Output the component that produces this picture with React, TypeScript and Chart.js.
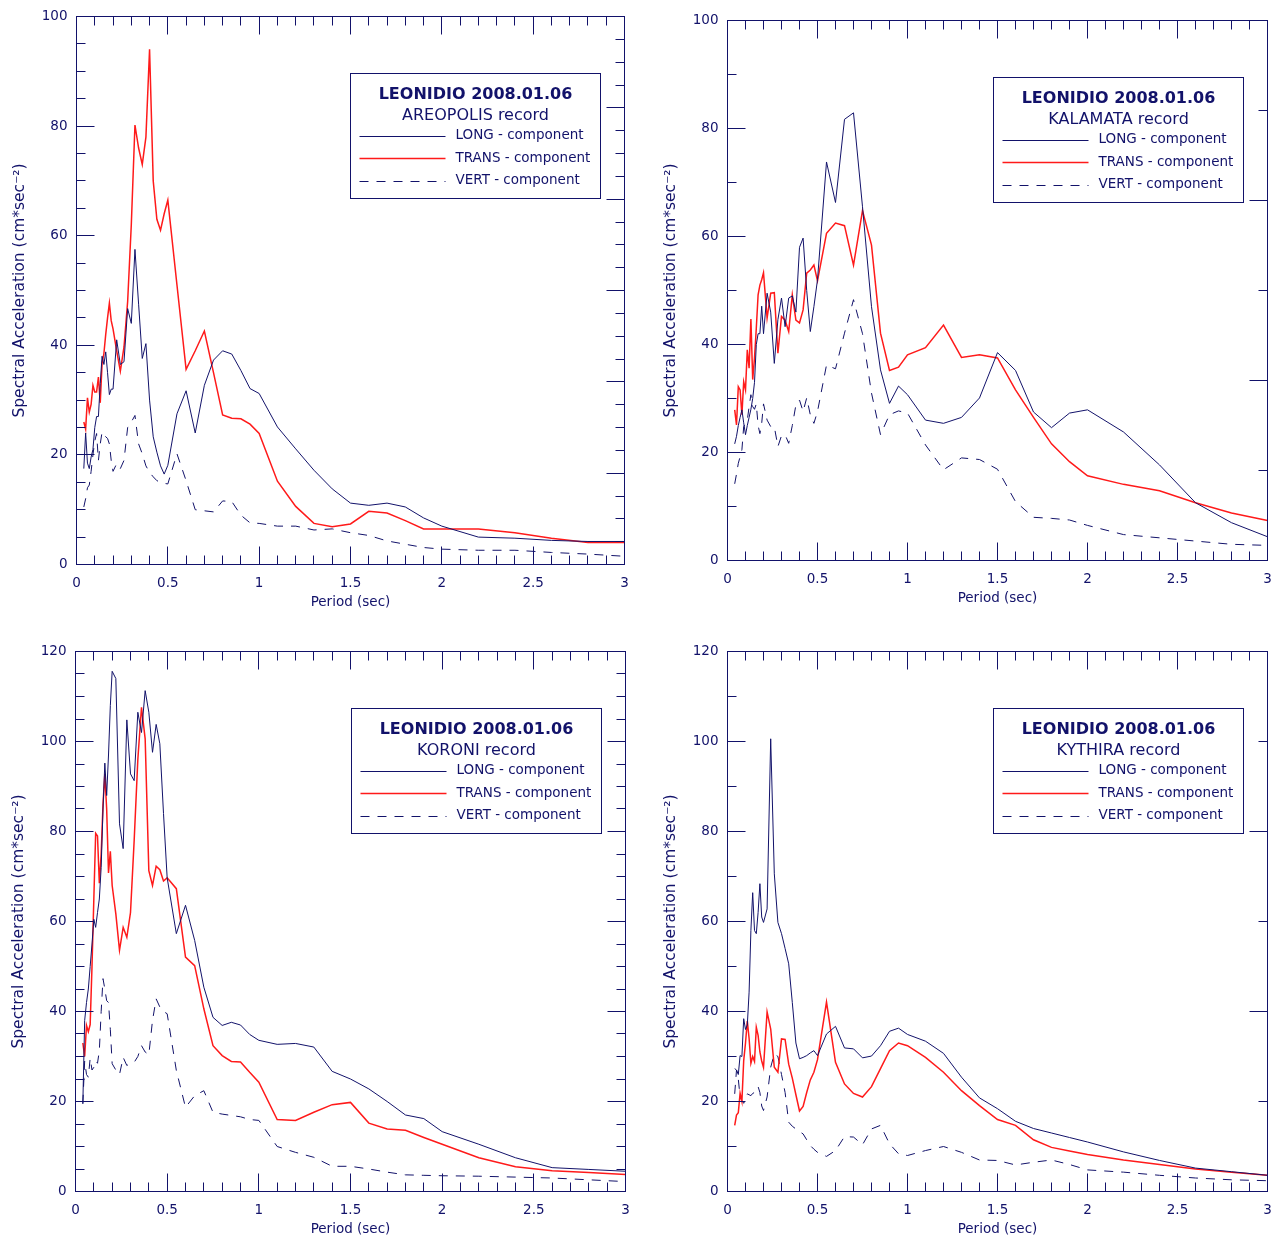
import React, { useEffect, useRef } from 'react';
import { Chart, registerables } from 'chart.js';

Chart.register(...registerables);

const FONT = '"DejaVu Sans", Verdana, sans-serif';
const NAVY = '#12126a';
const RED = '#ff1a1a';

// Periods (sec)
const periods = [
  0.04, 0.05, 0.06, 0.07, 0.08, 0.09, 0.10, 0.11, 0.12, 0.13, 0.14, 0.15, 0.16, 0.17, 0.18, 0.19, 0.20,
  0.22, 0.24, 0.26, 0.28, 0.30, 0.32, 0.34, 0.36, 0.38, 0.40, 0.42, 0.44, 0.46, 0.48, 0.50,
  0.55, 0.60, 0.65, 0.70, 0.75, 0.80, 0.85, 0.90, 0.95, 1.00,
  1.1, 1.2, 1.3, 1.4, 1.5, 1.6, 1.7, 1.8, 1.9, 2.0,
  2.2, 2.4, 2.6, 2.8, 3.0,
];

const eventTitle = 'LEONIDIO 2008.01.06';
const records = ['AREOPOLIS record', 'KALAMATA record', 'KORONI record', 'KYTHIRA record'];
const componentLabels = ['LONG - component', 'TRANS - component', 'VERT - component'];
const xTitle = 'Period (sec)';
const yTitle = 'Spectral Acceleration (cm*sec\u207B\u00B2)';

// AREOPOLIS
const areopolisLong = [
  17.5, 24, 18.5, 17.5, 19.6, 21, 25, 27, 27, 33, 38, 36.5, 38.8, 35, 31, 32, 32,
  41, 36.5, 37, 46.7, 44, 57.5, 47.5, 37.6, 40.3, 30, 23.3, 20.5, 18, 16.5, 18.1,
  27.5, 31.7, 24, 32.7, 37.3, 39, 38.4, 35.4, 32.1, 31.2,
  25.1, 21.1, 17.2, 13.8, 11.2, 10.8, 11.2, 10.5, 8.5, 7,
  5, 4.8, 4.4, 4.2, 4.2,
];
const areopolisTrans = [
  26, 24.7, 30.4, 27.8, 29.2, 32.7, 31.5, 31.5, 34.2, 29.5, 36.7, 38.5, 42, 45, 47.7, 44.5, 43,
  39, 35.3, 39.7, 48, 62, 80.2, 76, 73, 78, 94, 70, 63, 61, 64, 66.5,
  51, 35.6, 39, 42.6, 35, 27.3, 26.7, 26.6, 25.6, 23.9,
  15.2, 10.6, 7.5, 6.9, 7.4, 9.7, 9.4, 8, 6.5, 6.5,
  6.5, 5.8, 4.8, 4, 4,
];
const areopolisVert = [
  10.5, 12, 14, 14.5, 17, 20, 22.5, 23.9, 19, 22, 24.2, 23.8, 23.3, 23, 22, 19, 17,
  18.4, 17.5, 19, 25, 26, 27.2, 22, 20.2, 18, 16.8, 16, 15.3, 15, 14.8, 14.7,
  20.2, 15.3, 10, 9.8, 9.6, 11.6, 11.5, 9, 7.6, 7.5,
  7, 7, 6.3, 6.5, 5.8, 5.3, 4.3, 3.7, 3.1, 2.8,
  2.6, 2.6, 2.2, 1.9, 1.5,
];

// KALAMATA
const kalamataLong = [
  21.6, 23, 25, 26.5, 27.9, 25.5, 23.3, 25, 26.5, 28, 30, 33, 40, 42, 42, 47.1, 42,
  49.5, 46, 36.5, 44.6, 48.6, 43.3, 48.6, 49, 46, 58, 59.7, 50, 42.4, 47, 52,
  73.8, 66.3, 81.7, 82.9, 65.5, 47, 35.3, 29.1, 32.3, 30.7,
  26, 25.4, 26.5, 30.1, 38.5, 35.2, 27.5, 24.6, 27.3, 27.9,
  23.8, 17.7, 10.7, 7, 4.4,
];
const kalamataTrans = [
  27.9, 25.1, 32.2, 31.6, 27, 33.1, 31.6, 39, 35.6, 44.7, 33.5, 37.5, 43, 49.2, 51, 52, 53.3,
  44.9, 49.5, 49.6, 38.4, 45.2, 44.5, 42.4, 49.2, 44.5, 44, 46.4, 53.2, 53.8, 54.7, 51.8,
  60.6, 62.5, 62, 54.7, 64.8, 58.4, 42.1, 35.2, 35.8, 38.1,
  39.4, 43.6, 37.6, 38.1, 37.5, 31.6, 26.5, 21.6, 18.3, 15.7,
  14.1, 12.9, 10.7, 8.8, 7.4,
];
const kalamataVert = [
  14.2, 16, 18, 19.2, 20.5, 24.8, 25.4, 26, 28.5, 30.7, 28.5, 28, 29, 25, 23.5, 25.4, 29,
  26, 24.8, 24.8, 21.1, 23.1, 23.3, 21.7, 25, 28.8, 29.7, 27.6, 30.1, 27, 25.4, 27.6,
  36.2, 35.5, 42.1, 48.3, 42, 31, 23.3, 27, 27.7, 27.3,
  21.4, 16.8, 19, 18.7, 16.9, 10.9, 8, 7.8, 7.5, 6.5,
  4.8, 4.2, 3.6, 3, 2.8,
];

// KORONI
const koroniLong = [
  19.5, 38, 42, 45, 50, 55, 60.5, 58.7, 62, 65, 72, 85, 95.2, 88, 97, 108, 115.6,
  114, 81.7, 76.2, 104.8, 92.8, 91.3, 106.5, 102, 111.3, 106.5, 97.6, 103.8, 99.5, 84, 69.7,
  57.3, 63.6, 55.8, 45.4, 38.7, 36.9, 37.6, 37, 34.9, 33.6,
  32.7, 32.9, 32.1, 26.7, 25, 22.8, 20, 17, 16.2, 13.3,
  10.5, 7.5, 5.3, 4.9, 4.5,
];
const koroniTrans = [
  33, 30, 36.9, 35.5, 37.1, 50, 65, 79.6, 79, 68.5, 75, 86, 92.8, 85, 70.8, 75.6, 68,
  61.7, 53.6, 58.7, 56.5, 62, 78, 96, 107.6, 100.6, 71.3, 68, 72.3, 71.5, 69, 69.7,
  67.3, 52.1, 50.2, 40.6, 32.4, 30.2, 28.9, 28.8, 26.5, 24.3,
  16, 15.8, 17.6, 19.3, 19.8, 15.2, 13.9, 13.6, 12, 10.5,
  7.5, 5.5, 4.6, 4.2, 3.8,
];
const koroniVert = [
  19.5, 29, 26, 25.4, 29.6, 27, 27.6, 29, 28.5, 31.3, 40, 47.3, 45, 42.4, 42, 36, 28.4,
  27, 26, 29.8, 28, 28.5, 28.7, 30, 32.4, 31, 30.4, 38, 42.8, 41, 40, 39.5,
  26.9, 18.7, 21.3, 22.4, 17.6, 17.2, 16.9, 16.6, 16, 15.8,
  10, 8.7, 7.6, 5.6, 5.6, 5, 4.3, 3.7, 3.6, 3.5,
  3.4, 3.2, 3, 2.6, 2.2,
];

// KYTHIRA
const kythiraLong = [
  27.3, 27, 26, 30.2, 30, 38.4, 36, 37, 44.3, 58, 66.4, 58, 57.3, 62, 68.4, 61, 59.8,
  62.8, 100.6, 70.6, 59.8, 57.3, 54, 50.6, 42, 33, 29.5, 29.8, 30.2, 30.8, 31.3, 30.2,
  35, 36.7, 31.9, 31.7, 29.7, 30.1, 32.4, 35.6, 36.3, 34.9,
  33.4, 30.7, 25.4, 20.8, 18.4, 15.6, 14, 13, 12, 11,
  8.8, 6.9, 5.2, 4.4, 3.6,
];
const kythiraTrans = [
  14.7, 17, 17.5, 21.8, 20, 29.1, 33, 37.9, 34, 28.5, 30, 28.9, 36.5, 34.7, 31, 29, 27.6,
  39.9, 36.1, 27.6, 26.5, 33.9, 33.8, 28.3, 25.2, 21.5, 17.9, 18.9, 22, 24.8, 26.5, 29.3,
  42.1, 28.7, 23.9, 21.8, 21, 23.3, 27.3, 31.3, 33, 32.4,
  29.8, 26.5, 22.4, 19.1, 16, 14.7, 11.5, 9.8, 9, 8.2,
  7, 6, 5, 4.3, 3.6,
];
const kythiraVert = [
  21.7, 27, 25, 21, 20.2, 19.6, 20.5, 21.7, 21.5, 21.3, 21.8, 22, 22.3, 23.3, 22, 19, 18,
  21, 27.6, 30.6, 30, 26, 22, 15.4, 14.5, 13.9, 13.3, 12.8, 11.5, 10.2, 9.4, 8.7,
  7.8, 9.1, 12.2, 12.1, 10.4, 13.9, 14.7, 10.6, 8.4, 8,
  9.1, 10, 8.7, 7, 6.9, 5.9, 6.5, 7, 6, 4.8,
  4.3, 3.6, 3, 2.6, 2.4,
];

const CW = 639;
const CH = 619;

type Area = { l: number; t: number; r: number; b: number };
type PanelDef = {
  record: string;
  series: number[][];
  yMax: number;
  yMinor: number;
  rMax: number;
  rMajor: number;
  rMinor: number;
  left: number;
  top: number;
  area: Area;
};

const panels: PanelDef[] = [
  { record: records[0], series: [areopolisLong, areopolisTrans, areopolisVert], yMax: 100, yMinor: 5, rMax: 6, rMajor: 1, rMinor: 0.25, left: 0, top: 0, area: { l: 76.5, t: 16.5, r: 624.5, b: 564.5 } },
  { record: records[1], series: [kalamataLong, kalamataTrans, kalamataVert], yMax: 100, yMinor: 10, rMax: 3, rMajor: 1, rMinor: 0.5, left: 639, top: 0, area: { l: 88.5, t: 20.5, r: 628.5, b: 560.5 } },
  { record: records[2], series: [koroniLong, koroniTrans, koroniVert], yMax: 120, yMinor: 5, rMax: 6, rMajor: 1, rMinor: 0.25, left: 0, top: 619, area: { l: 75.5, t: 32.5, r: 625.5, b: 572.5 } },
  { record: records[3], series: [kythiraLong, kythiraTrans, kythiraVert], yMax: 120, yMinor: 10, rMax: 3, rMajor: 1, rMinor: 0.5, left: 639, top: 619, area: { l: 88.5, t: 32.5, r: 628.5, b: 572.5 } },
];

const innerTicksPlugin = {
  id: 'innerTicks',
  afterDatasetsDraw(chart: any, _args: any, opts: any) {
    const { ctx, chartArea: a, scales } = chart;
    const snap = (v: number) => Math.round(v - 0.5) + 0.5;
    ctx.save();
    ctx.strokeStyle = NAVY;
    ctx.lineWidth = 1;
    ctx.setLineDash([]);
    ctx.beginPath();
    const nx = Math.round(3 / 0.1);
    for (let i = 1; i < nx; i++) {
      const p = snap(scales.x.getPixelForValue(i * 0.1));
      const len = i % 5 === 0 ? 18 : 9;
      ctx.moveTo(p, a.bottom); ctx.lineTo(p, a.bottom - len);
      ctx.moveTo(p, a.top); ctx.lineTo(p, a.top + len);
    }
    const ny = Math.round(opts.yMax / opts.yMinor);
    const ky = Math.round(20 / opts.yMinor);
    for (let i = 1; i < ny; i++) {
      const p = snap(scales.y.getPixelForValue(i * opts.yMinor));
      const len = i % ky === 0 ? 18 : 9;
      ctx.moveTo(a.left, p); ctx.lineTo(a.left + len, p);
    }
    const nr = Math.round(opts.rMax / opts.rMinor);
    const kr = Math.round(opts.rMajor / opts.rMinor);
    for (let i = 1; i < nr; i++) {
      const p = snap(scales.y2.getPixelForValue(i * opts.rMinor));
      const len = i % kr === 0 ? 18 : 9;
      ctx.moveTo(a.right, p); ctx.lineTo(a.right - len, p);
    }
    ctx.stroke();
    ctx.strokeRect(a.left, a.top, a.right - a.left, a.bottom - a.top);
    ctx.restore();
  },
};

const recordLegendPlugin = {
  id: 'recordLegend',
  afterDraw(chart: any, _args: any, opts: any) {
    const { ctx, chartArea: a } = chart;
    const ds = chart.data.datasets;
    ctx.save();
    ctx.font = `13.5px ${FONT}`;
    let tw = 0;
    ds.forEach((d: any) => { tw = Math.max(tw, ctx.measureText(d.label).width); });
    const w = Math.round(105 + tw + 10);
    const right = Math.round(a.right - 25) + 0.5;
    const left = right - w;
    const top = Math.round(a.top + 56) + 0.5;
    const h = 125;
    ctx.fillStyle = '#ffffff';
    ctx.fillRect(left, top, w, h);
    ctx.strokeStyle = NAVY;
    ctx.lineWidth = 1;
    ctx.strokeRect(left, top, w, h);
    ctx.fillStyle = NAVY;
    ctx.textAlign = 'center';
    ctx.textBaseline = 'middle';
    ctx.font = `bold 16px ${FONT}`;
    ctx.fillText(opts.title, left + w / 2, top + 21);
    ctx.font = `16px ${FONT}`;
    ctx.fillText(opts.subtitle, left + w / 2, top + 42);
    ctx.font = `13.5px ${FONT}`;
    ctx.textAlign = 'left';
    ds.forEach((d: any, i: number) => {
      const y = top + 62 + i * 22.7;
      ctx.save();
      ctx.strokeStyle = d.borderColor;
      ctx.lineWidth = d.borderWidth;
      ctx.setLineDash(d.borderDash || []);
      ctx.beginPath();
      const ly = Math.round(y) + 0.5;
      ctx.moveTo(left + 9, ly);
      ctx.lineTo(left + 95, ly);
      ctx.stroke();
      ctx.restore();
      ctx.fillStyle = NAVY;
      ctx.fillText(d.label, left + 105, y);
    });
    ctx.restore();
  },
};

const noPad = (s: any) => {
  s.paddingLeft = 0;
  s.paddingRight = 0;
  s.paddingTop = 0;
  s.paddingBottom = 0;
};

function SpectrumPanel({ def }: { def: PanelDef }) {
  const ref = useRef<HTMLCanvasElement | null>(null);
  useEffect(() => {
    if (!ref.current) return;
    const { area } = def;
    const styles = [
      { borderColor: NAVY, borderWidth: 1, borderDash: [] as number[] },
      { borderColor: RED, borderWidth: 1.5, borderDash: [] as number[] },
      { borderColor: NAVY, borderWidth: 1, borderDash: [9, 8] },
    ];
    const yTitleSize = 15.5;
    const xTitleSize = 13.5;
    const fmt = (v: any) => String(Math.round(Number(v) * 10) / 10);
    const chart = new Chart(ref.current, {
      type: 'line',
      data: {
        datasets: def.series.map((vals, k) => ({
          label: componentLabels[k],
          data: periods.map((p, i) => ({ x: p, y: vals[i] })),
          borderColor: styles[k].borderColor,
          borderWidth: styles[k].borderWidth,
          borderDash: styles[k].borderDash,
          pointRadius: 0,
          tension: 0,
          fill: false,
        })),
      },
      options: {
        animation: false,
        responsive: false,
        devicePixelRatio: 1,
        layout: { padding: 0 },
        plugins: {
          legend: { display: false },
          tooltip: { enabled: false },
          innerTicks: { yMax: def.yMax, yMinor: def.yMinor, rMax: def.rMax, rMajor: def.rMajor, rMinor: def.rMinor },
          recordLegend: { title: eventTitle, subtitle: def.record },
        } as any,
        scales: {
          x: {
            type: 'linear',
            position: 'bottom',
            min: 0,
            max: 3,
            afterFit: (s: any) => { s.height = CH - area.b; noPad(s); },
            grid: { display: false, drawTicks: false },
            border: { display: false },
            ticks: {
              stepSize: 0.5,
              autoSkip: false,
              maxRotation: 0,
              padding: 11,
              color: NAVY,
              font: { family: FONT, size: 13.5 },
              callback: fmt,
            },
            title: {
              display: true,
              text: xTitle,
              color: NAVY,
              font: { family: FONT, size: xTitleSize },
              padding: { top: 0, bottom: CH - (area.b + 37.5) - (xTitleSize * 1.2) / 2 },
            },
          },
          x2: {
            type: 'linear',
            position: 'top',
            min: 0,
            max: 3,
            afterFit: (s: any) => { s.height = area.t; noPad(s); },
            grid: { display: false, drawTicks: false },
            border: { display: false },
            ticks: { display: false },
          },
          y: {
            type: 'linear',
            position: 'left',
            min: 0,
            max: def.yMax,
            afterFit: (s: any) => { s.width = area.l; noPad(s); },
            grid: { display: false, drawTicks: false },
            border: { display: false },
            ticks: {
              stepSize: 20,
              padding: 9,
              color: NAVY,
              font: { family: FONT, size: 13.5 },
            },
            title: {
              display: true,
              text: yTitle,
              color: NAVY,
              font: { family: FONT, size: yTitleSize },
              padding: { top: area.l - 57 - (yTitleSize * 1.2) / 2, bottom: 0 },
            },
          },
          y2: {
            type: 'linear',
            position: 'right',
            min: 0,
            max: def.rMax,
            afterFit: (s: any) => { s.width = CW - area.r; noPad(s); },
            grid: { display: false, drawTicks: false },
            border: { display: false },
            ticks: { display: false },
          },
        } as any,
      },
      plugins: [innerTicksPlugin, recordLegendPlugin],
    });
    return () => chart.destroy();
  }, [def]);
  return (
    <div style={{ position: 'absolute', left: def.left, top: def.top, width: CW, height: CH }}>
      <canvas ref={ref} width={CW} height={CH} style={{ width: CW, height: CH, display: 'block' }} />
    </div>
  );
}

export default function App() {
  return (
    <div style={{ position: 'absolute', left: 0, top: 0, width: 1278, height: 1238, background: '#ffffff' }}>
      {panels.map((p) => (
        <SpectrumPanel key={p.record} def={p} />
      ))}
    </div>
  );
}
